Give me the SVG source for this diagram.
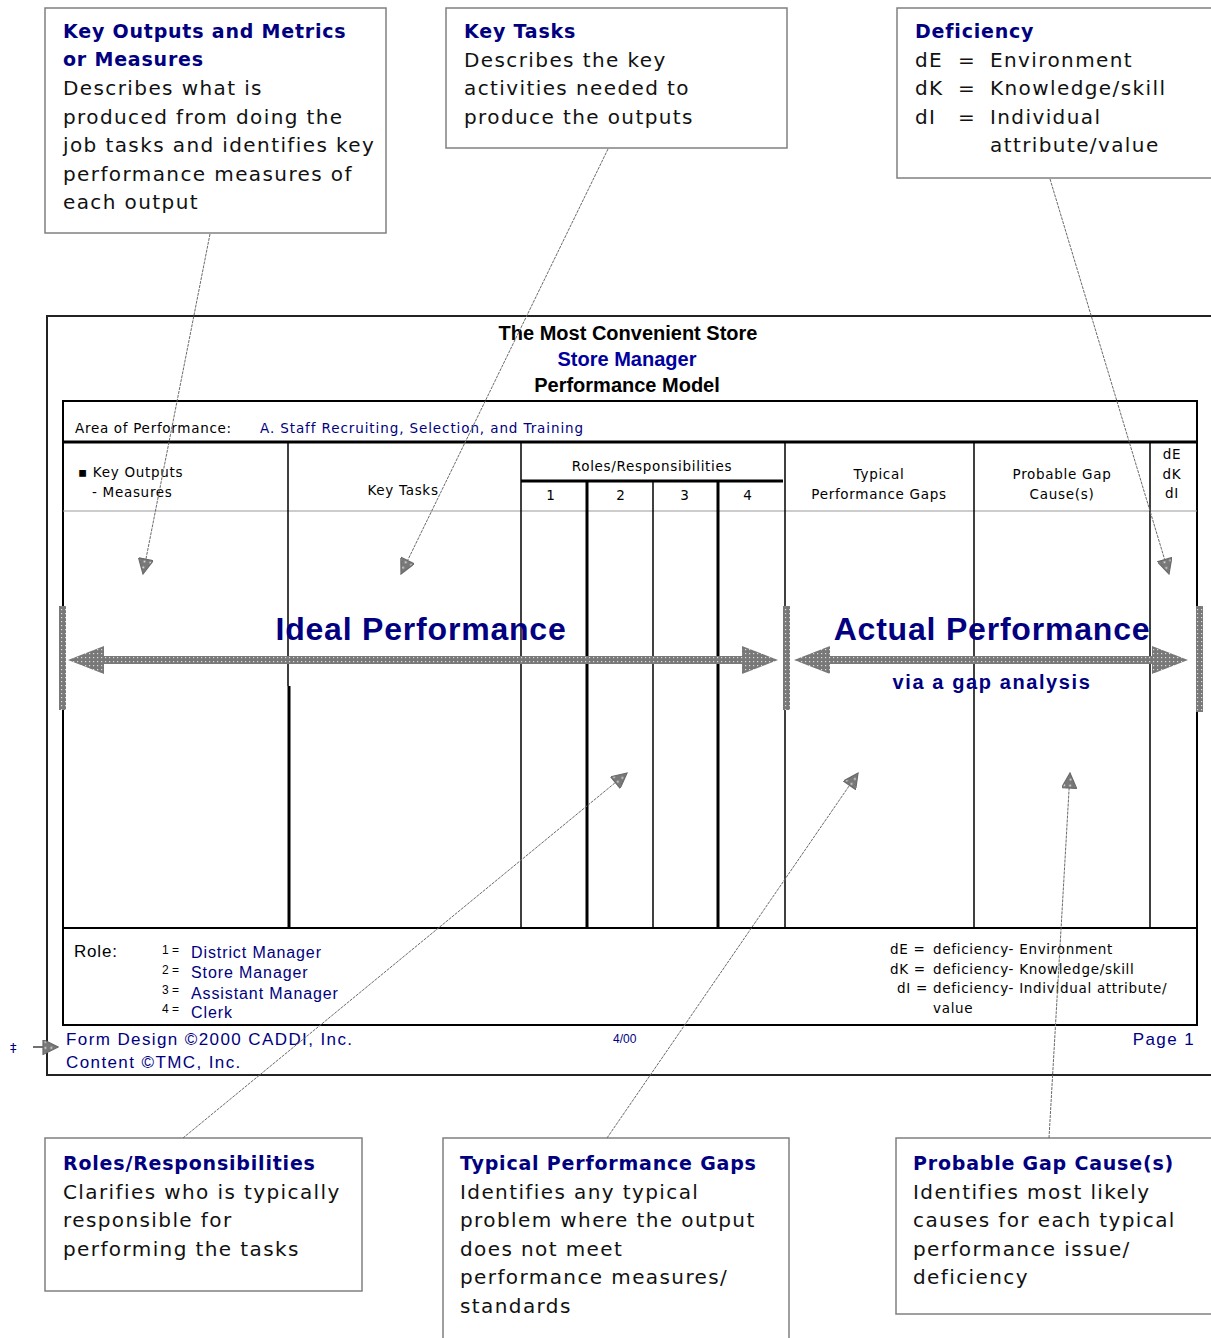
<svg xmlns="http://www.w3.org/2000/svg" width="1211" height="1338" viewBox="0 0 1211 1338">
<defs>
<style>
.box{fill:#fff;stroke:#808080;stroke-width:1.5}
.ttl{font-family:"DejaVu Sans",sans-serif;font-weight:bold;font-size:19px;fill:#000080;letter-spacing:0.8px}
.body{font-family:"DejaVu Sans",sans-serif;font-size:20px;fill:#111;letter-spacing:1.4px}
.ft{font-family:"Liberation Sans",sans-serif;font-weight:bold;font-size:20px;fill:#000}
.tb{font-family:"DejaVu Sans",sans-serif;font-size:13.5px;fill:#000;letter-spacing:0.7px}
.tbb{font-family:"DejaVu Sans",sans-serif;font-size:13.5px;fill:#000080;letter-spacing:0.9px}
.big{font-family:"Liberation Sans",sans-serif;font-weight:bold;font-size:32px;fill:#000080;letter-spacing:0.8px}
.ln{stroke:#000;stroke-width:1.5}
.thk{stroke:#000;stroke-width:3}
.call{stroke:#6a6a6a;stroke-width:1;fill:none;stroke-dasharray:3 1;marker-end:url(#tri)}
.rl{font-family:"Liberation Sans",sans-serif;font-size:16px;fill:#000080;letter-spacing:0.9px}
.fo{font-family:"Liberation Sans",sans-serif;font-size:17px;fill:#000080;letter-spacing:1.4px}
</style>
<pattern id="dots" width="4" height="4" patternUnits="userSpaceOnUse"><rect width="4" height="4" fill="#787878"/><rect x="1" y="1" width="1.2" height="1.2" fill="#dcdcdc"/></pattern>
<marker id="tri" viewBox="0 0 10 10" refX="10" refY="5" markerUnits="userSpaceOnUse" markerWidth="17" markerHeight="15" orient="auto"><path d="M0,0 L10,5 L0,10 z" fill="url(#dots)" stroke="#6a6a6a" stroke-width="0.8"/></marker>
</defs>
<rect width="1211" height="1338" fill="#fff"/>

<g id="form">
<rect x="47" y="316" width="1180" height="759" fill="#fff" stroke="#222" stroke-width="2"/>
<text class="ft" x="628" y="340" text-anchor="middle">The Most Convenient Store</text>
<text class="ft" x="627" y="366" text-anchor="middle" style="fill:#0000a0">Store Manager</text>
<text class="ft" x="627" y="392" text-anchor="middle">Performance Model</text>
<rect x="63" y="401" width="1134" height="624" fill="none" stroke="#000" stroke-width="2"/>
<text class="tb" x="75" y="433">Area of Performance:</text>
<text class="tbb" x="260" y="433">A. Staff Recruiting, Selection, and Training</text>
<line class="thk" x1="63" y1="442" x2="1197" y2="442"/>
<line x1="63" y1="511" x2="1197" y2="511" stroke="#999" stroke-width="1"/>
<line class="ln" x1="288" y1="442" x2="288" y2="686"/>
<line class="thk" x1="289" y1="686" x2="289" y2="928"/>
<line class="ln" x1="521" y1="442" x2="521" y2="928"/>
<line class="thk" x1="587" y1="481" x2="587" y2="928"/>
<line class="ln" x1="653" y1="481" x2="653" y2="928"/>
<line class="thk" x1="718" y1="481" x2="718" y2="928"/>
<line class="ln" x1="785" y1="442" x2="785" y2="928"/>
<line class="ln" x1="974" y1="442" x2="974" y2="928"/>
<line class="ln" x1="1150" y1="442" x2="1150" y2="928"/>
<line class="thk" x1="521" y1="481" x2="783" y2="481"/>
<line x1="63" y1="928" x2="1197" y2="928" stroke="#000" stroke-width="2"/>
<text class="tb" x="78" y="477">▪ Key Outputs</text>
<text class="tb" x="92" y="497">- Measures</text>
<text class="tb" x="403" y="495" text-anchor="middle">Key Tasks</text>
<text class="tb" x="652" y="471" text-anchor="middle">Roles/Responsibilities</text>
<text class="tb" x="551" y="500" text-anchor="middle">1</text>
<text class="tb" x="621" y="500" text-anchor="middle">2</text>
<text class="tb" x="685" y="500" text-anchor="middle">3</text>
<text class="tb" x="748" y="500" text-anchor="middle">4</text>
<text class="tb" x="879" y="479" text-anchor="middle">Typical</text>
<text class="tb" x="879" y="499" text-anchor="middle">Performance Gaps</text>
<text class="tb" x="1062" y="479" text-anchor="middle">Probable Gap</text>
<text class="tb" x="1062" y="499" text-anchor="middle">Cause(s)</text>
<text class="tb" x="1172" y="459" text-anchor="middle">dE</text>
<text class="tb" x="1172" y="479" text-anchor="middle">dK</text>
<text class="tb" x="1172" y="498" text-anchor="middle">dI</text>

<text x="74" y="957" style="font-family:'Liberation Sans',sans-serif;font-size:17px;fill:#000;letter-spacing:0.8px">Role:</text>
<g style="font-family:'Liberation Sans',sans-serif;font-size:12px;fill:#000">
<text x="162" y="954">1 =</text><text x="162" y="974">2 =</text><text x="162" y="994">3 =</text><text x="162" y="1013">4 =</text>
</g>
<text class="rl" x="191" y="958">District Manager</text>
<text class="rl" x="191" y="978">Store Manager</text>
<text class="rl" x="191" y="999">Assistant Manager</text>
<text class="rl" x="191" y="1018">Clerk</text>
<g class="tb">
<text x="890" y="954">dE =</text><text x="933" y="954">deficiency- Environment</text>
<text x="890" y="974">dK =</text><text x="933" y="974">deficiency- Knowledge/skill</text>
<text x="897" y="993">dI =</text><text x="933" y="993">deficiency- Individual attribute/</text>
<text x="933" y="1013">value</text>
</g>
<text class="fo" x="66" y="1045">Form Design ©2000  CADDI, Inc.</text>
<text class="fo" x="66" y="1068">Content ©TMC, Inc.</text>
<text x="613" y="1043" style="font-family:'Liberation Sans',sans-serif;font-size:12px;fill:#000080">4/00</text>
<text class="fo" x="1195" y="1045" text-anchor="end">Page 1</text>
</g>

<g id="performance-arrows">
<text class="big" x="421" y="640" text-anchor="middle">Ideal Performance</text>
<text class="big" x="992" y="640" text-anchor="middle">Actual Performance</text>
<text x="992" y="689" text-anchor="middle" style="font-family:'Liberation Sans',sans-serif;font-weight:bold;font-size:20px;fill:#000080;letter-spacing:1.6px">via a gap analysis</text>
<path d="M68,660 L104,646 L104,656 L742,656 L742,646 L778,660 L742,674 L742,664 L104,664 L104,674 Z" fill="url(#dots)"/>
<path d="M794,660 L830,646 L830,656 L1152,656 L1152,646 L1188,660 L1152,674 L1152,664 L830,664 L830,674 Z" fill="url(#dots)"/>
<rect x="59" y="606" width="7" height="104" fill="url(#dots)"/>
<rect x="783" y="606" width="7" height="104" fill="url(#dots)"/>
<rect x="1196" y="606" width="7" height="106" fill="url(#dots)"/>
</g>

<g id="key-outputs">
<rect class="box" x="45" y="8" width="341" height="225"/>
<text class="ttl" x="63" y="38">Key Outputs and Metrics</text>
<text class="ttl" x="63" y="66">or Measures</text>
<text class="body" x="63" y="95">Describes what is</text>
<text class="body" x="63" y="124">produced from doing the</text>
<text class="body" x="63" y="152">job tasks and identifies key</text>
<text class="body" x="63" y="181">performance measures of</text>
<text class="body" x="63" y="209">each output</text>
</g>
<g id="key-tasks">
<rect class="box" x="446" y="8" width="341" height="140"/>
<text class="ttl" x="464" y="38">Key Tasks</text>
<text class="body" x="464" y="67">Describes the key</text>
<text class="body" x="464" y="95">activities needed to</text>
<text class="body" x="464" y="124">produce the outputs</text>
</g>
<g id="deficiency">
<rect class="box" x="897" y="8" width="330" height="170"/>
<text class="ttl" x="915" y="38">Deficiency</text>
<text class="body" x="915" y="67">dE</text><text class="body" x="958" y="67">=</text><text class="body" x="990" y="67">Environment</text>
<text class="body" x="915" y="95">dK</text><text class="body" x="958" y="95">=</text><text class="body" x="990" y="95">Knowledge/skill</text>
<text class="body" x="915" y="124">dI</text><text class="body" x="958" y="124">=</text><text class="body" x="990" y="124">Individual</text>
<text class="body" x="990" y="152">attribute/value</text>
</g>
<g id="roles">
<rect class="box" x="45" y="1138" width="317" height="153"/>
<text class="ttl" x="63" y="1170">Roles/Responsibilities</text>
<text class="body" x="63" y="1199">Clarifies who is typically</text>
<text class="body" x="63" y="1227">responsible for</text>
<text class="body" x="63" y="1256">performing the tasks</text>
</g>
<g id="typical-gaps">
<rect class="box" x="443" y="1138" width="346" height="220"/>
<text class="ttl" x="460" y="1170">Typical Performance Gaps</text>
<text class="body" x="460" y="1199">Identifies any typical</text>
<text class="body" x="460" y="1227">problem where the output</text>
<text class="body" x="460" y="1256">does not meet</text>
<text class="body" x="460" y="1284">performance measures/</text>
<text class="body" x="460" y="1313">standards</text>
</g>
<g id="gap-causes">
<rect class="box" x="896" y="1138" width="330" height="176"/>
<text class="ttl" x="913" y="1170">Probable Gap Cause(s)</text>
<text class="body" x="913" y="1199">Identifies most likely</text>
<text class="body" x="913" y="1227">causes for each typical</text>
<text class="body" x="913" y="1256">performance issue/</text>
<text class="body" x="913" y="1284">deficiency</text>
</g>

<g id="connectors">
<line class="call" x1="210" y1="234" x2="143" y2="574"/>
<line class="call" x1="608" y1="149" x2="401" y2="574"/>
<line class="call" x1="1050" y1="179" x2="1169" y2="574"/>
<line class="call" x1="183" y1="1138" x2="627" y2="773"/>
<line class="call" x1="607" y1="1138" x2="858" y2="773"/>
<line class="call" x1="1049" y1="1138" x2="1070" y2="773"/>
<text x="10" y="1052" style="font-family:'DejaVu Sans',sans-serif;font-size:13px;fill:#000080">‡</text>
<line x1="33" y1="1047" x2="58" y2="1047" stroke="#707070" stroke-width="2" marker-end="url(#tri)"/>
</g>
</svg>
